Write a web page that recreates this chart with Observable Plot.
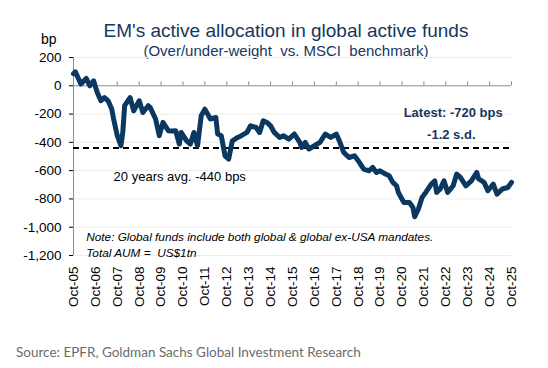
<!DOCTYPE html>
<html>
<head>
<meta charset="utf-8">
<script src="https://cdn.jsdelivr.net/npm/d3@7"></script>
<script src="https://cdn.jsdelivr.net/npm/@observablehq/plot@0.6"></script>
<style>
  body { margin: 0; background: #fff; width: 548px; height: 368px; position: relative; overflow: hidden; font-family: "Liberation Sans", Arial, sans-serif; }
  #title { position: absolute; left: 0; width: 572px; top: 21px; text-align: center; font-size: 19px; color: #17375e; line-height: 20px; white-space: nowrap; }
  #subtitle { position: absolute; left: 0; width: 572px; top: 43px; text-align: center; font-size: 15px; color: #17375e; line-height: 16px; white-space: nowrap; }
  #bp { position: absolute; left: 41px; top: 31px; font-size: 14px; color: #000; }
  #chart { position: absolute; left: 0; top: 48px; }
  #source { position: absolute; left: 16px; top: 344px; font-family: Lato, "Open Sans", sans-serif; font-size: 13.5px; color: #6d6d6d; }
</style>
</head>
<body>
<div id="title">EM's active allocation in global active funds</div>
<div id="subtitle">(Over/under-weight&nbsp; vs. MSCI&nbsp; benchmark)</div>
<div id="bp">bp</div>
<div id="chart"></div>
<div id="source">Source: EPFR, Goldman Sachs Global Investment Research</div>
<script>
const dates = [
  "2005-10","2005-11","2006-02","2006-05","2006-07","2006-09","2006-11",
  "2007-01","2007-03","2007-05","2007-07","2007-08","2007-10","2007-12",
  "2008-01","2008-02","2008-05","2008-07","2008-10","2008-12",
  "2009-03","2009-04","2009-07","2009-09","2009-11",
  "2010-02","2010-04","2010-06","2010-08","2010-09","2010-12",
  "2011-02","2011-04","2011-06","2011-08","2011-10",
  "2012-01","2012-04","2012-05","2012-07","2012-09","2012-11",
  "2013-01","2013-04","2013-06","2013-09","2013-11",
  "2014-02","2014-04","2014-06","2014-08","2014-10","2014-12",
  "2015-03","2015-05","2015-08","2015-11",
  "2016-02","2016-03","2016-05","2016-07","2016-10",
  "2017-01","2017-04","2017-07","2017-10","2017-12",
  "2018-02","2018-05","2018-08","2018-10",
  "2019-01","2019-04","2019-06","2019-08","2019-10",
  "2020-01","2020-03","2020-05","2020-07","2020-08","2020-11",
  "2021-02","2021-04","2021-05","2021-07","2021-09","2021-11",
  "2022-02","2022-04","2022-05","2022-07","2022-09","2022-11",
  "2023-02","2023-04","2023-06","2023-09","2023-12",
  "2024-03","2024-04","2024-07","2024-09","2024-12",
  "2025-02","2025-05","2025-08","2025-10"
];
const values = [
  85,99,12,52,0,35,-47,
  -106,-83,-106,-165,-235,-353,-424,
  -330,-141,-83,-177,-106,-189,
  -141,-153,-235,-353,-259,
  -318,-320,-318,-412,-330,-389,
  -412,-330,-424,-212,-165,
  -235,-224,-341,-353,-495,-518,
  -389,-365,-353,-330,-283,
  -295,-330,-247,-259,-283,-330,
  -365,-353,-377,-341,
  -400,-436,-400,-447,-424,
  -400,-341,-365,-341,-400,
  -471,-507,-495,-530,
  -589,-601,-577,-613,-601,
  -624,-636,-683,-707,-754,-825,
  -825,-860,-926,-871,-789,-754,
  -695,-672,-754,-730,-672,-754,
  -707,-624,-648,-707,-672,
  -613,-659,-683,-742,-695,
  -766,-730,-719,-683
];
const xTickLabels = ["Oct-05","Oct-06","Oct-07","Oct-08","Oct-09","Oct-10","Oct-11","Oct-12","Oct-13","Oct-14","Oct-15","Oct-16","Oct-17","Oct-18","Oct-19","Oct-20","Oct-21","Oct-22","Oct-23","Oct-24","Oct-25"];
const yTicks = [200, 0, -200, -400, -600, -800, -1000, -1200];
const avgValue = -440;

const parse = d3.utcParse("%Y-%m");
const data = dates.map((d, i) => ({date: parse(d), value: values[i]}));
const tickDates = xTickLabels.map(s => parse("20" + s.slice(4) + "-10"));
const labelOf = new Map(tickDates.map((d, i) => [+d, xTickLabels[i]]));
const x0 = tickDates[0], x1 = tickDates[tickDates.length - 1];

const chart = Plot.plot({
  width: 548,
  height: 272,
  marginLeft: 73,
  marginRight: 37,
  marginTop: 9,
  marginBottom: 65,
  style: {fontFamily: "'Liberation Sans', Arial, sans-serif", fontSize: "13.5px", color: "#000", background: "transparent", overflow: "visible"},
  x: {type: "utc", domain: [x0, x1], ticks: tickDates, tickFormat: d => labelOf.get(+d), tickRotate: -90, tickSize: 0, tickPadding: 11, label: null},
  y: {domain: [-1200, 200], ticks: yTicks, tickFormat: d => d.toLocaleString("en-US"), tickSize: 4, tickPadding: 8, label: null},
  marks: [
    Plot.gridY(yTicks.filter(v => v !== 0), {stroke: "#ececec", strokeOpacity: 1}),
    Plot.ruleX([x0], {y1: -1200, y2: 200, stroke: "#8c8c8c"}),
    Plot.ruleY([0], {stroke: "#8c8c8c"}),
    Plot.ruleX(tickDates, {y1: 0, y2: 28, stroke: "#8c8c8c"}),
    Plot.ruleY([avgValue], {stroke: "#000", strokeWidth: 2, strokeDasharray: "6,4"}),
    Plot.line(data, {x: "date", y: "value", stroke: "#0b3861", strokeWidth: 5, strokeLinejoin: "round", strokeLinecap: "round"}),
    Plot.text(["Latest: -720 bps"], {x: parse("2023-02"), y: -190, text: d => d, fontWeight: "bold", fill: "#17375e", fontSize: 13}),
    Plot.text(["-1.2 s.d."], {x: parse("2023-01"), y: -346, text: d => d, fontWeight: "bold", fill: "#17375e", fontSize: 13}),
    Plot.text(["20 years avg. -440 bps"], {x: parse("2007-08"), y: -643, text: d => d, textAnchor: "start", fill: "#000", fontSize: 13}),
    Plot.text(["Note: Global funds include both global & global ex-USA mandates."], {x: parse("2006-05"), y: -1074, text: d => d, textAnchor: "start", fontStyle: "italic", fill: "#000", fontSize: 11.8}),
    Plot.text(["Total AUM =  US$1tn"], {x: parse("2006-05"), y: -1187, text: d => d, textAnchor: "start", fontStyle: "italic", fill: "#000", fontSize: 11.8})
  ]
});
document.getElementById("chart").appendChild(chart);
</script>
</body>
</html>
